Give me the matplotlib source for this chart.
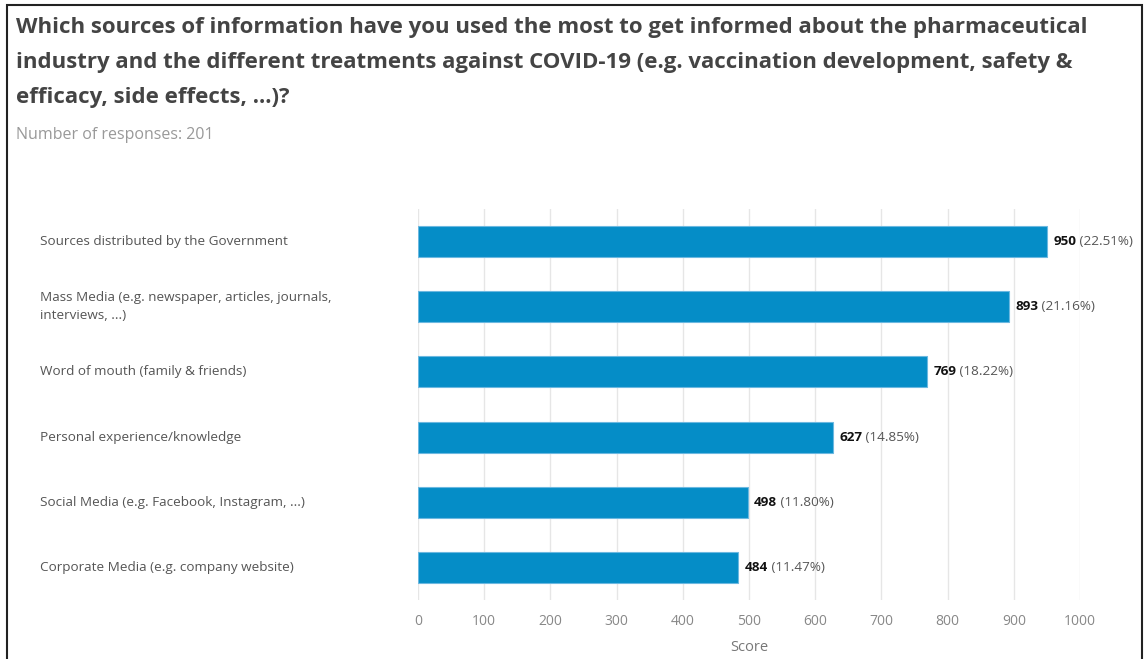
import matplotlib.pyplot as plt
from matplotlib.patches import Rectangle

plt.rcParams['font.family'] = ['Open Sans', 'DejaVu Sans']

title_lines = [
    "Which sources of information have you used the most to get informed about the pharmaceutical",
    "industry and the different treatments against COVID-19 (e.g. vaccination development, safety &",
    "efficacy, side effects, ...)?",
]
subtitle = "Number of responses: 201"

sources = [
    "Sources distributed by the Government",
    "Mass Media (e.g. newspaper, articles, journals,\ninterviews, ...)",
    "Word of mouth (family & friends)",
    "Personal experience/knowledge",
    "Social Media (e.g. Facebook, Instagram, ...)",
    "Corporate Media (e.g. company website)",
]
scores = [950, 893, 769, 627, 498, 484]
shares = ["22.51%", "21.16%", "18.22%", "14.85%", "11.80%", "11.47%"]
ticks = [0, 100, 200, 300, 400, 500, 600, 700, 800, 900, 1000]

W, H = 1144, 659
fig = plt.figure(figsize=(W / 100, H / 100), dpi=100)

# outer frame
fig.add_artist(Rectangle((7 / W, -0.01), (1142 - 7) / W, 1 - 5 / H + 0.01,
                         transform=fig.transFigure, fill=False,
                         edgecolor='#222222', linewidth=1.5))

for k, line in enumerate(title_lines):
    fig.text(16 / W, 1 - (33 + 35 * k) / H, line, fontsize=16, fontweight='bold',
             color='#444444', va='baseline', ha='left')
fig.text(16 / W, 1 - 139 / H, subtitle, fontsize=11.5, color='#999999',
         va='baseline', ha='left')

ax = fig.add_axes([418 / W, 1 - 600 / H, (1080 - 418) / W, (600 - 209) / H])
y = range(len(sources))
ax.barh(y, scores, height=0.475, color='#058DC7', edgecolor='#6cb8e0',
        linewidth=0.8, zorder=3)
ax.set_ylim(len(sources) - 0.5, -0.5)
ax.set_xlim(0, 1000)
ax.set_xticks(ticks)
ax.set_xticklabels([str(t) for t in ticks], fontsize=10, color='#888888')
ax.tick_params(axis='x', length=0, pad=10)
ax.set_yticks([])
ax.grid(axis='x', color='#e6e6e6', linewidth=1, zorder=0)
for s in ax.spines.values():
    s.set_visible(False)
ax.set_xlabel("Score", fontsize=10.5, color='#777777', labelpad=8)

for i, (lab, v, p) in enumerate(zip(sources, scores, shares)):
    ax.text(-(418 - 40) / (1080 - 418) * 1000, i, lab, fontsize=9.7,
            color='#555555', va='center', ha='left', linespacing=1.5)
    t = ax.annotate(str(v), (v, i), xytext=(4.5, 0), textcoords='offset points',
                    fontsize=9.7, fontweight='bold', color='#111111',
                    va='center', ha='left')
    ax.annotate(" (" + p + ")", (1, 0.5), xycoords=t, va='center', ha='left',
                fontsize=9.7, color='#555555')

fig.savefig("out.png", dpi=100)
